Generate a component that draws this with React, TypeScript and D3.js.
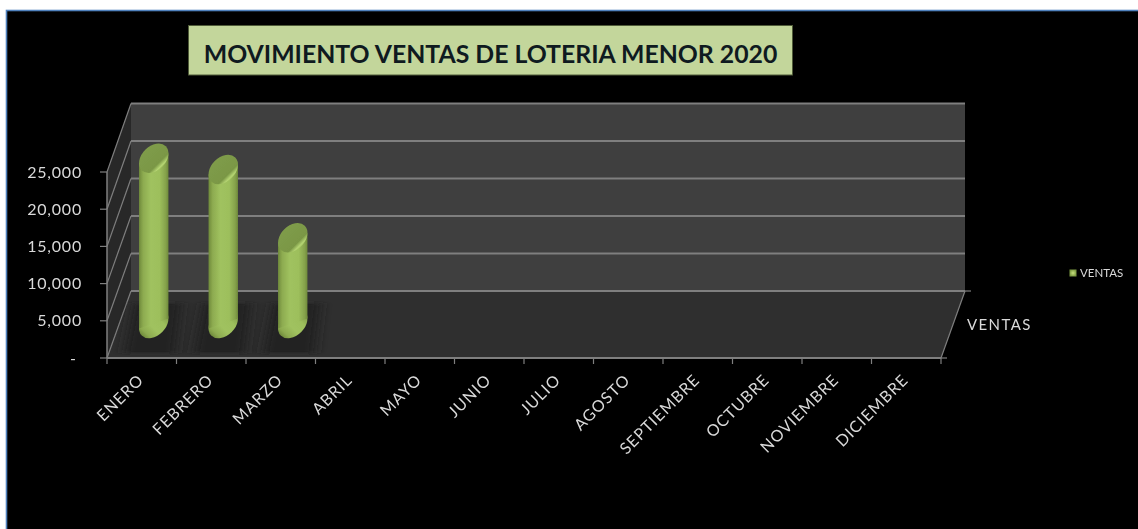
import React from "react";
import * as d3 from "d3";

const months = ["ENERO","FEBRERO","MARZO","ABRIL","MAYO","JUNIO","JULIO","AGOSTO","SEPTIEMBRE","OCTUBRE","NOVIEMBRE","DICIEMBRE"];
const ventas = [22150, 20650, 11500];
const yTicks = [0, 5000, 10000, 15000, 20000, 25000];
const seriesName = "VENTAS";
const title = "MOVIMIENTO VENTAS DE LOTERIA MENOR 2020";

const W = 1138, H = 529;
const x = d3.scaleBand<string>().domain(months).range([107, 941]);
const yFront = d3.scaleLinear().domain([0, 25000]).range([358, 172]);
const yBack = d3.scaleLinear().domain([0, 25000]).range([291, 103.5]);
const yMid = d3.scaleLinear().domain([0, 25000]).range([323.5, 137]);
const depthX = 24;
const fmt = (v: number) => (v === 0 ? "-" : d3.format(",")(v));
const font = "Lato, Carlito, 'Open Sans', sans-serif";
const grid = "#7f7f7f";

export default function App() {
  const bottom = yFront(0), floorBack = yBack(0), left = x.range()[0], right = x.range()[1];
  const barHalf = 14.7, slant = 5, rx = 17, ry = 12;
  return (
    <svg width={W} height={H} viewBox={`0 0 ${W} ${H}`} style={{ position: "absolute", left: 0, top: 0, background: "#fff" }}>
      <defs>
        <linearGradient id="cyl" x1="0" x2="1" y1="0" y2="0">
          <stop offset="0" stopColor="#6f8a3b" />
          <stop offset="0.14" stopColor="#8dab50" />
          <stop offset="0.4" stopColor="#a0c25f" />
          <stop offset="0.7" stopColor="#9dbf5c" />
          <stop offset="0.9" stopColor="#86a34c" />
          <stop offset="1" stopColor="#6f8a3b" />
        </linearGradient>
        <linearGradient id="cap" x1="0" x2="0" y1="0" y2="1">
          <stop offset="0" stopColor="#7f9c4a" />
          <stop offset="0.78" stopColor="#7a9745" />
          <stop offset="0.94" stopColor="#b4d472" />
          <stop offset="1" stopColor="#a6c664" />
        </linearGradient>
        <radialGradient id="sw">
          <stop offset="0" stopColor="#c8e07f" />
          <stop offset="1" stopColor="#7b9a40" />
        </radialGradient>
        <filter id="shadow" x="-40%" y="-20%" width="180%" height="140%"><feGaussianBlur stdDeviation="6 1.5" /></filter>
        <filter id="soft" x="-5%" y="-5%" width="110%" height="110%"><feGaussianBlur stdDeviation="0.45" /></filter>
      </defs>

      <rect x={6.5} y={10.5} width={W} height={H} fill="#000" stroke="#4f81bd" strokeWidth={1.6} />

      <polygon points={`${left + depthX},${yBack(25000)} ${right + depthX},${yBack(25000)} ${right + depthX},${floorBack} ${left + depthX},${floorBack}`} fill="#3f3f3f" />
      <polygon points={`${left},${yFront(25000)} ${left + depthX},${yBack(25000)} ${left + depthX},${floorBack} ${left},${bottom}`} fill="#282828" />
      <polygon points={`${left},${bottom} ${left + depthX},${floorBack} ${right + depthX},${floorBack} ${right},${bottom}`} fill="#2f2f2f" />

      {yTicks.map((t) => (
        <g key={t} stroke={grid}>
          <line x1={left + depthX} x2={right + depthX} y1={yBack(t)} y2={yBack(t)} strokeWidth={2} />
          <line x1={left} x2={left + depthX} y1={yFront(t)} y2={yBack(t)} strokeWidth={1.2} />
          <line x1={left - 7} x2={left} y1={yFront(t)} y2={yFront(t)} strokeWidth={1.2} />
        </g>
      ))}
      <line x1={left} x2={left} y1={yFront(25000)} y2={bottom} stroke={grid} strokeWidth={1.5} />
      <line x1={left} x2={right} y1={bottom} y2={bottom} stroke={grid} strokeWidth={2} />
      <line x1={right} x2={right + depthX} y1={bottom} y2={floorBack} stroke={grid} strokeWidth={1.2} />
      <line x1={right + depthX} x2={right + depthX + 6} y1={floorBack} y2={floorBack} stroke={grid} strokeWidth={1.2} />
      <line x1={right} x2={right + 6} y1={bottom} y2={bottom} stroke={grid} strokeWidth={1.2} />
      {[...months.map((m) => x(m)!), right].map((p, i) => (
        <line key={i} x1={p} x2={p} y1={bottom} y2={bottom + 6} stroke={grid} strokeWidth={1.2} />
      ))}

      {ventas.map((_, i) => {
        const bx = x(months[i])! + x.bandwidth() / 2 + 12;
        return (
          <polygon key={i} points={`${bx - 20},${yBack(0) + 12} ${bx + 28},${yBack(0) + 12} ${bx + 22},${bottom - 5} ${bx - 30},${bottom - 5}`} fill="#212121" filter="url(#shadow)" />
        );
      })}

      <g filter="url(#soft)">
        {ventas.map((v, i) => {
          const cx = x(months[i])! + x.bandwidth() / 2 + 12;
          const top = yMid(v), base = yMid(0);
          return (
            <g key={i}>
              <ellipse cx={cx} cy={base} rx={rx} ry={ry} transform={`rotate(-45 ${cx} ${base})`} fill="url(#cyl)" />
              <polygon points={`${cx - barHalf},${top + slant} ${cx + barHalf},${top - slant} ${cx + barHalf},${base - slant} ${cx - barHalf},${base + slant}`} fill="url(#cyl)" />
              <ellipse cx={cx} cy={top} rx={rx} ry={ry} transform={`rotate(-45 ${cx} ${top})`} fill="url(#cap)" />
            </g>
          );
        })}
      </g>

      <g fill="#d9d9d9" fontFamily={font} fontSize={16} filter="url(#soft)">
        {yTicks.map((t) => (
          <text key={t} x={t === 0 ? 76 : 82} y={yFront(t)} dy="0.35em" textAnchor="end" letterSpacing={t === 0 ? 0 : 0.8}>{fmt(t)}</text>
        ))}
        {months.map((m) => {
          const px = x(m)! + x.bandwidth() / 2 + 3;
          const py = 381;
          return (
            <text key={m} transform={`translate(${px},${py}) rotate(-45)`} textAnchor="end" letterSpacing={1}>{m}</text>
          );
        })}
        <text x={967} y={325} dy="0.35em" fontSize={15} letterSpacing={1.4}>{seriesName}</text>
        <rect x={1069.5} y={269.5} width={7} height={7} fill="url(#sw)" />
        <text x={1080} y={273} dy="0.35em" fontSize={11.5}>{seriesName}</text>
      </g>

      <rect x={188.5} y={25.5} width={604} height={49.5} fill="#c3d69b" stroke="#4f5b38" strokeWidth={1} />
      <text x={490.5} y={54} dy="0.35em" textAnchor="middle" fontFamily={font} fontWeight={700} fontSize={24.8} fill="#0f1a20">{title}</text>
    </svg>
  );
}
